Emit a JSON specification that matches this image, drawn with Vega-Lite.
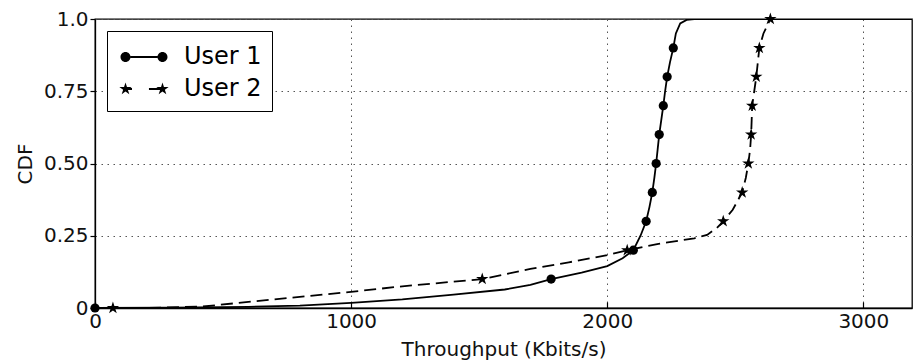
{
  "$schema": "https://vega.github.io/schema/vega-lite/v6.json",
  "width": 817,
  "height": 289,
  "autosize": "none",
  "padding": {"left": 95, "top": 19, "right": 1, "bottom": 53},
  "background": "white",
  "datasets": {
    "curves": [
      {"series": "User 1", "x": 0, "y": 0},
      {"series": "User 1", "x": 300, "y": 0.001},
      {"series": "User 1", "x": 600, "y": 0.004},
      {"series": "User 1", "x": 800, "y": 0.008},
      {"series": "User 1", "x": 1000, "y": 0.018},
      {"series": "User 1", "x": 1200, "y": 0.03},
      {"series": "User 1", "x": 1400, "y": 0.046},
      {"series": "User 1", "x": 1600, "y": 0.064},
      {"series": "User 1", "x": 1700, "y": 0.08},
      {"series": "User 1", "x": 1781, "y": 0.1},
      {"series": "User 1", "x": 1900, "y": 0.122},
      {"series": "User 1", "x": 2000, "y": 0.145},
      {"series": "User 1", "x": 2060, "y": 0.172},
      {"series": "User 1", "x": 2102, "y": 0.2},
      {"series": "User 1", "x": 2130, "y": 0.25},
      {"series": "User 1", "x": 2152, "y": 0.3},
      {"series": "User 1", "x": 2165, "y": 0.35},
      {"series": "User 1", "x": 2176, "y": 0.4},
      {"series": "User 1", "x": 2184, "y": 0.45},
      {"series": "User 1", "x": 2191, "y": 0.5},
      {"series": "User 1", "x": 2197, "y": 0.55},
      {"series": "User 1", "x": 2203, "y": 0.6},
      {"series": "User 1", "x": 2211, "y": 0.65},
      {"series": "User 1", "x": 2219, "y": 0.7},
      {"series": "User 1", "x": 2226, "y": 0.75},
      {"series": "User 1", "x": 2234, "y": 0.8},
      {"series": "User 1", "x": 2245, "y": 0.85},
      {"series": "User 1", "x": 2258, "y": 0.9},
      {"series": "User 1", "x": 2268, "y": 0.95},
      {"series": "User 1", "x": 2285, "y": 0.985},
      {"series": "User 1", "x": 2310, "y": 0.997},
      {"series": "User 1", "x": 2340, "y": 1.0},
      {"series": "User 1", "x": 3190, "y": 1.0},
      {"series": "User 2", "x": 0, "y": 0},
      {"series": "User 2", "x": 200, "y": 0},
      {"series": "User 2", "x": 420, "y": 0.005},
      {"series": "User 2", "x": 700, "y": 0.03},
      {"series": "User 2", "x": 1000, "y": 0.056},
      {"series": "User 2", "x": 1200, "y": 0.075},
      {"series": "User 2", "x": 1400, "y": 0.091},
      {"series": "User 2", "x": 1512, "y": 0.1},
      {"series": "User 2", "x": 1700, "y": 0.135},
      {"series": "User 2", "x": 1850, "y": 0.158},
      {"series": "User 2", "x": 2000, "y": 0.183},
      {"series": "User 2", "x": 2078, "y": 0.2},
      {"series": "User 2", "x": 2200, "y": 0.222},
      {"series": "User 2", "x": 2340, "y": 0.241},
      {"series": "User 2", "x": 2390, "y": 0.253},
      {"series": "User 2", "x": 2428, "y": 0.277},
      {"series": "User 2", "x": 2453, "y": 0.3},
      {"series": "User 2", "x": 2490, "y": 0.34},
      {"series": "User 2", "x": 2527, "y": 0.4},
      {"series": "User 2", "x": 2541, "y": 0.45},
      {"series": "User 2", "x": 2551, "y": 0.5},
      {"series": "User 2", "x": 2558, "y": 0.55},
      {"series": "User 2", "x": 2562, "y": 0.6},
      {"series": "User 2", "x": 2564, "y": 0.65},
      {"series": "User 2", "x": 2566, "y": 0.7},
      {"series": "User 2", "x": 2574, "y": 0.75},
      {"series": "User 2", "x": 2582, "y": 0.8},
      {"series": "User 2", "x": 2588, "y": 0.85},
      {"series": "User 2", "x": 2594, "y": 0.9},
      {"series": "User 2", "x": 2610, "y": 0.95},
      {"series": "User 2", "x": 2637, "y": 1.0},
      {"series": "User 2", "x": 3190, "y": 1.0}
    ],
    "markers": [
      {"series": "User 1", "x": 0, "y": 0},
      {"series": "User 1", "x": 1781, "y": 0.1},
      {"series": "User 1", "x": 2102, "y": 0.2},
      {"series": "User 1", "x": 2152, "y": 0.3},
      {"series": "User 1", "x": 2176, "y": 0.4},
      {"series": "User 1", "x": 2191, "y": 0.5},
      {"series": "User 1", "x": 2203, "y": 0.6},
      {"series": "User 1", "x": 2219, "y": 0.7},
      {"series": "User 1", "x": 2234, "y": 0.8},
      {"series": "User 1", "x": 2258, "y": 0.9},
      {"series": "User 2", "x": 70, "y": 0},
      {"series": "User 2", "x": 1512, "y": 0.1},
      {"series": "User 2", "x": 2078, "y": 0.2},
      {"series": "User 2", "x": 2453, "y": 0.3},
      {"series": "User 2", "x": 2527, "y": 0.4},
      {"series": "User 2", "x": 2551, "y": 0.5},
      {"series": "User 2", "x": 2562, "y": 0.6},
      {"series": "User 2", "x": 2566, "y": 0.7},
      {"series": "User 2", "x": 2582, "y": 0.8},
      {"series": "User 2", "x": 2594, "y": 0.9},
      {"series": "User 2", "x": 2637, "y": 1.0}
    ]
  },
  "encoding": {
    "x": {
      "field": "x", "type": "quantitative",
      "scale": {"domain": [0, 3190], "nice": false, "zero": false},
      "axis": {
        "title": "Throughput (Kbits/s)",
        "values": [0, 1000, 2000, 3000],
        "format": "d",
        "labelFlush": false, "labelOverlap": false, "labelBound": false,
        "tickSize": -6, "labelPadding": 9, "titlePadding": 8
      }
    },
    "y": {
      "field": "y", "type": "quantitative",
      "scale": {"domain": [0, 1], "nice": false},
      "axis": {
        "title": "CDF",
        "values": [0, 0.25, 0.5, 0.75, 1],
        "labelExpr": "datum.value == 0 ? '0' : (datum.value == 1 ? '1.0' : format(datum.value, '.2f'))",
        "labelFlush": false, "labelOverlap": false, "labelBound": false,
        "tickSize": 5, "labelPadding": 2, "titlePadding": 8
      }
    }
  },
  "layer": [
    {
      "data": {"name": "curves"},
      "transform": [{"filter": "datum.series === 'User 1'"}],
      "mark": {"type": "line", "color": "black", "strokeWidth": 1.8, "clip": true},
      "encoding": {}
    },
    {
      "data": {"name": "curves"},
      "transform": [{"filter": "datum.series === 'User 2'"}],
      "mark": {"type": "line", "color": "black", "strokeWidth": 1.8, "strokeDash": [12, 6], "clip": true},
      "encoding": {}
    },
    {
      "data": {"name": "markers"},
      "mark": {"type": "point", "filled": true, "color": "black", "opacity": 1, "size": 85, "clip": false},
      "encoding": {
        "shape": {
          "field": "series", "type": "nominal",
          "scale": {
            "domain": ["User 1", "User 2"],
            "range": ["circle", "M0,-1.414L0.316,-0.435L1.345,-0.437L0.511,0.166L0.831,1.144L0,0.537L-0.831,1.144L-0.511,0.166L-1.345,-0.437L-0.316,-0.435Z"]
          },
          "legend": null
        }
      }
    },
    {
      "data": {"name": "markers"},
      "mark": {"type": "point", "filled": true, "color": "black", "opacity": 0, "size": 900, "clip": true},
      "encoding": {
        "shape": {
          "field": "series", "type": "nominal",
          "scale": {
            "domain": ["User 1", "User 2"],
            "range": [
              "M-0.9,-0.06L0.9,-0.06L0.9,0.06L-0.9,0.06ZM-1.566,0A0.333 0.333 0 1 0 -0.9,0A0.333 0.333 0 1 0 -1.566,0ZM0.9,0A0.333 0.333 0 1 0 1.566,0A0.333 0.333 0 1 0 0.9,0Z",
              "M-1.1,-0.06L-0.8,-0.06L-0.8,0.06L-1.1,0.06ZM0.33,-0.06L1.1,-0.06L1.1,0.06L0.33,0.06ZM-1.233,-0.433L-1.136,-0.133L-0.821,-0.134L-1.076,0.051L-0.978,0.35L-1.233,0.165L-1.488,0.35L-1.39,0.051L-1.645,-0.134L-1.33,-0.133ZM1.233,-0.433L1.33,-0.133L1.645,-0.134L1.39,0.051L1.488,0.35L1.233,0.165L0.978,0.35L1.076,0.051L0.821,-0.134L1.136,-0.133Z"
            ]
          },
          "legend": {
            "title": null,
            "orient": "top-left",
            "offset": 12,
            "padding": 10,
            "strokeColor": "black",
            "fillColor": "white",
            "cornerRadius": 0,
            "symbolSize": 900,
            "symbolOpacity": 1,
            "symbolFillColor": "black",
            "symbolStrokeColor": "black",
            "symbolStrokeWidth": 1.5,
            "symbolOffset": 11,
            "labelOffset": 24,
            "rowPadding": 4,
            "labelFont": "DejaVu Sans",
            "labelFontSize": 24,
            "labelColor": "black",
            "labelLimit": 300
          }
        }
      }
    }
  ],
  "resolve": {"scale": {"shape": "independent"}, "legend": {"shape": "independent"}},
  "config": {
    "font": "DejaVu Sans",
    "view": {"stroke": "black", "strokeWidth": 1.3},
    "axis": {
      "labelFont": "DejaVu Sans",
      "labelFontSize": 20,
      "labelColor": "#111",
      "titleFont": "DejaVu Sans",
      "titleFontSize": 20,
      "titleFontWeight": "normal",
      "titleColor": "#111",
      "domainColor": "black",
      "domainWidth": 1.3,
      "tickColor": "black",
      "tickWidth": 1.2,
      "grid": true,
      "gridColor": "#555",
      "gridDash": [1.5, 4.5],
      "gridWidth": 1,
      "gridOpacity": 1
    }
  }
}
